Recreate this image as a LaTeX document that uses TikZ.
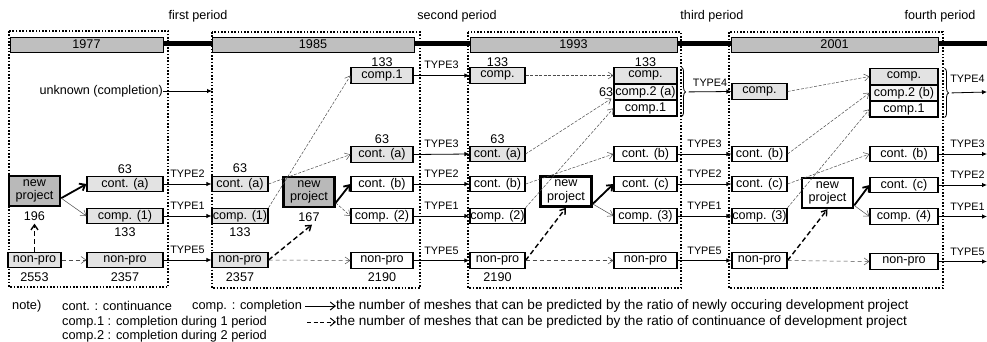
\documentclass[tikz,border=0pt]{standalone}
\usepackage{fontspec}
\setmainfont{Liberation Sans}
\usetikzlibrary{arrows.meta,decorations.pathreplacing,calc}
\begin{document}
\begin{tikzpicture}[x=1pt,y=-1pt,
  every node/.style={font=\fontsize{12.6}{13.5}\selectfont, inner sep=0pt},
  bx/.style={draw, line width=1.1pt, minimum height=15.5pt, fill=white},
  sp/.style={bx, fill=gray!22},
  npdark/.style={draw, line width=2.4pt, fill=gray!55, minimum width=51pt, minimum height=30pt, align=center, font=\fontsize{12.6}{13.5}\selectfont},
  npwhite/.style={npdark, fill=white},
  per/.style={draw, line width=2.2pt, dash pattern=on 1.6pt off 1.7pt},
  bar/.style={draw, line width=1pt, fill=gray!50},
  typ/.style={font=\fontsize{10.8}{12}\selectfont},
  num/.style={font=\fontsize{12.6}{13.5}\selectfont},
  lgs/.style={anchor=west, font=\fontsize{12.8}{14}\selectfont},
  lgl/.style={anchor=west, font=\fontsize{13.6}{14}\selectfont},
  tarr/.style={line width=0.8pt, -{Latex[length=5pt,width=4.5pt]}},
  barr/.style={line width=1.8pt, -{Straight Barb[length=5pt,width=8pt]}},
  thinarr/.style={line width=0.5pt, draw=gray!60!black, -{Straight Barb[length=5pt,width=7pt]}},
  crs/.style={thinarr, dash pattern=on 3pt off 1.5pt},
  dotarr/.style={thinarr, dash pattern=on 4pt off 3pt},
  dsh/.style={line width=1.4pt, dash pattern=on 5pt off 3pt, -{Straight Barb[length=5pt,width=7pt]}},
  brc/.style={decorate, decoration={brace, amplitude=4pt}, line width=0.8pt},
  endlab/.style={typ, pos=1, anchor=south east, yshift=6pt, xshift=-2pt}
]
\useasboundingbox (0,0) rectangle (987,341);

% period labels
\node (lab1) at (198,16) {first period};
\node (lab2) at (457,16) {second period};
\node (lab3) at (712,16) {third period};
\node (lab4) at (940,16) {fourth period};

% period frames
\draw[per] (9,31) rectangle (168,287);
\draw[per] (212,32) rectangle (420,288);
\draw[per] (468,32) rectangle (681,288);
\draw[per] (729,32) rectangle (943,288);

% timeline
\draw[line width=5pt] (10,43) -- (987,43);
\node[bar, minimum width=153pt, minimum height=15pt] (y1) at (86.5,44.5) {1977};
\node[bar, minimum width=202pt, minimum height=15pt] (y2) at (313,44.5) {1985};
\node[bar, minimum width=207pt, minimum height=15pt] (y3) at (573.5,44.5) {1993};
\node[bar, minimum width=207pt, minimum height=15pt] (y4) at (834.5,44.5) {2001};

% ---------- period 1 ----------
\node[npdark] (np1) at (34.5,191) {new\\project};
\node[sp, minimum width=53pt] (nonpro1a) at (34.5,260) {non-pro};
\node[sp, minimum width=76pt] (conta1) at (125,184) {cont. (a)};
\node[sp, minimum width=76pt] (compo1) at (125,216) {comp. (1)};
\node[sp, minimum width=76pt] (nonpro1b) at (125,260) {non-pro};
\node[num] (n63a) at (125,169) {63};
\node[num] (n196) at (34.5,216) {196};
\node[num] (n133a) at (125,232) {133};
\node[num] (n2553) at (34.5,277) {2553};
\node[num] (n2357a) at (125,277) {2357};
\node[anchor=east] (unk) at (163,91) {unknown (completion)};
\coordinate (unkend) at (212,91);

\draw[barr] (np1.-15) -- (conta1.west);
\draw[thinarr] (np1.-15) -- (compo1.west);
\draw[dotarr] (nonpro1a.east) -- (nonpro1b.west);
\draw[dsh] (nonpro1a.north) -- ($(n196.south)+(0,3)$);
\draw[tarr] (unk.east) -- (unkend);

% ---------- period 2 ----------
\node[sp, minimum width=56pt] (conta2) at (240,184) {cont. (a)};
\node[sp, minimum width=56pt] (compo2) at (240,216) {comp. (1)};
\node[sp, minimum width=56pt] (nonpro2a) at (240,260) {non-pro};
\node[npdark] (np2) at (309,192) {new\\project};
\node[sp, minimum width=62pt] (cone2) at (382,75.5) {comp.1};
\node[sp, minimum width=62pt] (contat2) at (382,154.5) {cont. (a)};
\node[bx, minimum width=62pt] (contb2) at (382,184) {cont. (b)};
\node[bx, minimum width=62pt] (ctwo2) at (382,216) {comp. (2)};
\node[bx, minimum width=62pt] (nonpro2b) at (382,260.5) {non-pro};
\node[num] (n63b) at (240,168) {63};
\node[num] (n133b) at (240,232) {133};
\node[num] (n2357b) at (240,277) {2357};
\node[num] (n167) at (309,217) {167};
\node[num] (n2190a) at (382,277) {2190};
\node[num] (n133c) at (382,62) {133};
\node[num] (n63c) at (382,139) {63};

\draw[tarr] (conta1.east) -- node[typ, above=6pt] {TYPE2} (conta2.west);
\draw[tarr] (compo1.east) -- node[typ, above=6pt] {TYPE1} (compo2.west);
\draw[tarr] (nonpro1b.east) -- node[typ, above=6pt] {TYPE5} (nonpro2a.west);

\draw[crs] (conta2.east) -- (contat2.west);
\draw[crs] (compo2.north east) -- (cone2.west);
\draw[barr] (np2.-22) -- (contb2.west);
\draw[crs] (np2.-22) -- (ctwo2.west);
\draw[dsh] (nonpro2a.east) -- ($(n167.south)+(3,3)$);
\draw[dotarr] (nonpro2a.east) -- (nonpro2b.west);

% ---------- period 3 ----------
\node[sp, minimum width=55pt] (comp3) at (497.5,75.5) {comp.};
\node[sp, minimum width=55pt] (conta3) at (497.5,154) {cont. (a)};
\node[bx, minimum width=55pt] (contb3) at (497.5,184) {cont. (b)};
\node[bx, minimum width=55pt] (ctwo3) at (497.5,216) {comp. (2)};
\node[bx, minimum width=55pt] (nonpro3a) at (497.5,260.5) {non-pro};
\node[npwhite] (np3) at (566,191.5) {new\\project};
\node[sp, minimum width=63pt, minimum height=15.3pt] (comp3r) at (645.5,75.5) {comp.};
\node[bx, minimum width=63pt, minimum height=15.3pt, fill=gray!8, anchor=north] (ctwoa) at (comp3r.south) {comp.2 (a)};
\node[bx, minimum width=63pt, minimum height=15.3pt, anchor=north] (cone3) at (ctwoa.south) {comp.1};
\node[bx, minimum width=63pt] (contb3r) at (645.5,154) {cont. (b)};
\node[bx, minimum width=63pt] (contc3r) at (645.5,184) {cont. (c)};
\node[bx, minimum width=63pt] (cthree3r) at (645.5,216) {comp. (3)};
\node[bx, minimum width=63pt] (nonpro3b) at (645.5,260.5) {non-pro};
\node[num] (n133d) at (497.5,62) {133};
\node[num] (n63d) at (497.5,139) {63};
\node[num] (n2190b) at (497.5,277) {2190};
\node[num] (n133e) at (645.5,62) {133};
\node[num, anchor=east] (n63e) at (ctwoa.west) {63};

\draw[tarr] (cone2.east) -- node[typ, above=6pt] {TYPE3} (comp3.west);
\draw[tarr] (contat2.east) -- node[typ, above=6pt] {TYPE3} (conta3.west);
\draw[tarr] (contb2.east) -- node[typ, above=6pt] {TYPE2} (contb3.west);
\draw[tarr] (ctwo2.east) -- node[typ, above=6pt] {TYPE1} (ctwo3.west);
\draw[tarr] (nonpro2b.east) -- node[typ, above=6pt] {TYPE5} (nonpro3a.west);

\draw[crs] (comp3.east) -- (comp3r.west);
\draw[crs] (conta3.east) -- ($(n63e.south east)+(-2,2)$);
\draw[crs] (contb3.east) -- (contb3r.west);
\draw[crs] (ctwo3.north east) -- (cone3.west);
\draw[barr] (np3.-25) -- (contc3r.west);
\draw[thinarr] (np3.-25) -- (cthree3r.west);
\draw[dsh] (nonpro3a.east) -- (np3.south);
\draw[dotarr] (nonpro3a.east) -- (nonpro3b.west);

% ---------- period 4 ----------
\node[sp, minimum width=55pt] (comp4) at (759.5,91.5) {comp.};
\node[bx, minimum width=55pt] (contb4) at (759.5,154) {cont. (b)};
\node[bx, minimum width=55pt] (contc4) at (759.5,184) {cont. (c)};
\node[bx, minimum width=55pt] (cthree4) at (759.5,216) {comp. (3)};
\node[bx, minimum width=55pt] (nonpro4a) at (759.5,260.5) {non-pro};
\node[npwhite] (np4) at (827.5,193) {new\\project};
\node[sp, minimum width=68pt, minimum height=15.3pt] (comp4r) at (904,76.5) {comp.};
\node[bx, minimum width=68pt, minimum height=15.3pt, fill=gray!8, anchor=north] (ctwob) at (comp4r.south) {comp.2 (b)};
\node[bx, minimum width=68pt, minimum height=15.3pt, anchor=north] (cone4) at (ctwob.south) {comp.1};
\node[bx, minimum width=68pt] (contb4r) at (904,154) {cont. (b)};
\node[bx, minimum width=68pt] (contc4r) at (904,185) {cont. (c)};
\node[bx, minimum width=68pt] (cfour4r) at (904,216.5) {comp. (4)};
\node[bx, minimum width=68pt] (nonpro4b) at (904,261.5) {non-pro};

\draw[brc] (comp3r.north east) ++(4,0) coordinate (b3a) -- ($(cone3.south east)+(4,0)$) coordinate (b3b);
\coordinate (br3) at ($(b3a)!0.5!(b3b)+(7,0)$);
\draw[tarr] (br3) -- node[typ, above=5pt] {TYPE4} (comp4.west);
\draw[tarr] (contb3r.east) -- node[typ, above=6pt] {TYPE3} (contb4.west);
\draw[tarr] (contc3r.east) -- node[typ, above=6pt] {TYPE2} (contc4.west);
\draw[tarr] (cthree3r.east) -- node[typ, above=6pt] {TYPE1} (cthree4.west);
\draw[tarr] (nonpro3b.east) -- node[typ, above=6pt] {TYPE5} (nonpro4a.west);

\draw[crs] (comp4.east) -- (comp4r.west);
\draw[crs] (contb4.east) -- (ctwob.west);
\draw[crs] (contc4.east) -- (contb4r.west);
\draw[crs] (cthree4.north east) -- (cone4.west);
\draw[barr] (np4.-25) -- (contc4r.west);
\draw[thinarr] (np4.-25) -- (cfour4r.west);
\draw[dsh] (nonpro4a.east) -- (np4.south);
\draw[dotarr] (nonpro4a.east) -- (nonpro4b.west);

% right exits
\draw[brc] (comp4r.north east) ++(6,0) coordinate (b4a) -- ($(cone4.south east)+(6,0)$) coordinate (b4b);
\coordinate (br4) at ($(b4a)!0.5!(b4b)+(7,0)$);
\coordinate (e4) at (987,92);
\coordinate (e3) at (987,154);
\coordinate (e2) at (987,185);
\coordinate (e1) at (987,216.5);
\coordinate (e5) at (987,261.5);
\draw[tarr] (br4) -- node[endlab, yshift=3pt] {TYPE4} (e4);
\draw[tarr] (contb4r.east) -- node[endlab] {TYPE3} (e3);
\draw[tarr] (contc4r.east) -- node[endlab] {TYPE2} (e2);
\draw[tarr] (cfour4r.east) -- node[endlab] {TYPE1} (e1);
\draw[tarr] (nonpro4b.east) -- node[endlab] {TYPE5} (e5);

% ---------- legend ----------
\node[lgs] (note) at (12,306) {note)};
\node[lgs] (lg1) at (62,306) {cont. : continuance};
\node[lgs] (lg2) at (192,306) {comp. : completion};
\node[lgs] (lg3) at (62,322) {comp.1 : completion during 1 period};
\node[lgs] (lg4) at (62,336) {comp.2 : completion during 2 period};
\node[lgl] (lg5) at (336,306) {the number of meshes that can be predicted by the ratio of newly occuring development project};
\node[lgl] (lg6) at (336,322) {the number of meshes that can be predicted by the ratio of continuance of development project};
\coordinate (la1) at (305,306);
\coordinate (la2) at (307,322);
\draw[line width=1pt, -{Straight Barb[length=5pt,width=8pt]}] (la1) -- (lg5.west);
\draw[line width=1pt, dash pattern=on 4pt off 2.5pt, -{Straight Barb[length=5pt,width=8pt]}] (la2) -- (lg6.west);
\end{tikzpicture}
\end{document}
